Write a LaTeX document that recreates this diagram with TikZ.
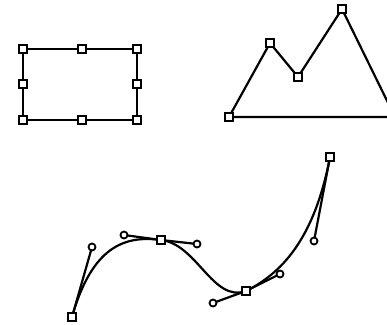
\documentclass[tikz,border=0pt]{standalone}
\tikzset{
  anchorpt/.style={draw,fill=white,line width=2pt,minimum size=7.5pt,inner sep=0pt},
  handlept/.style={circle,draw,fill=white,line width=1.8pt,minimum size=7pt,inner sep=0pt}
}
\begin{document}
\begin{tikzpicture}[x=1pt,y=-1pt,line width=2.2pt]
\useasboundingbox (0,0) rectangle (387,324);
\clip (0,0) rectangle (387,324);
% rectangle
\coordinate (r1) at (23,49);
\coordinate (r2) at (82,49);
\coordinate (r3) at (137,49);
\coordinate (r4) at (137,84);
\coordinate (r5) at (137,120);
\coordinate (r6) at (82,120);
\coordinate (r7) at (23,120);
\coordinate (r8) at (23,84);
\draw (r1) -- (r3) -- (r5) -- (r7) -- cycle;
\foreach \p in {r1,r2,r3,r4,r5,r6,r7,r8}
  \node[anchorpt] at (\p) {};
% mountain
\coordinate (m1) at (229,117);
\coordinate (m2) at (270,43);
\coordinate (m3) at (298,77);
\coordinate (m4) at (342,9);
\coordinate (m5) at (395,117);
\draw (m1) -- (m2) -- (m3) -- (m4) -- (m5) -- cycle;
\foreach \p in {m1,m2,m3,m4}
  \node[anchorpt] at (\p) {};
% curve
\coordinate (c1) at (72,317);
\coordinate (c2) at (161,240);
\coordinate (c3) at (246,291);
\coordinate (c4) at (330,157);
\coordinate (h1) at (92,247);
\coordinate (h2) at (124,235);
\coordinate (h3) at (197,244);
\coordinate (h4) at (213,303);
\coordinate (h5) at (280,274);
\coordinate (h6) at (314,241);
\draw (c1) .. controls (h1) and (h2) .. (c2)
           .. controls (h3) and (h4) .. (c3)
           .. controls (h5) and (h6) .. (c4);
\draw (c1) -- (h1);
\draw (h2) -- (c2) -- (h3);
\draw (h4) -- (c3) -- (h5);
\draw (c4) -- (h6);
\foreach \p in {h1,h2,h3,h4,h5,h6}
  \node[handlept] at (\p) {};
\foreach \p in {c1,c2,c3,c4}
  \node[anchorpt] at (\p) {};
\end{tikzpicture}
\end{document}
